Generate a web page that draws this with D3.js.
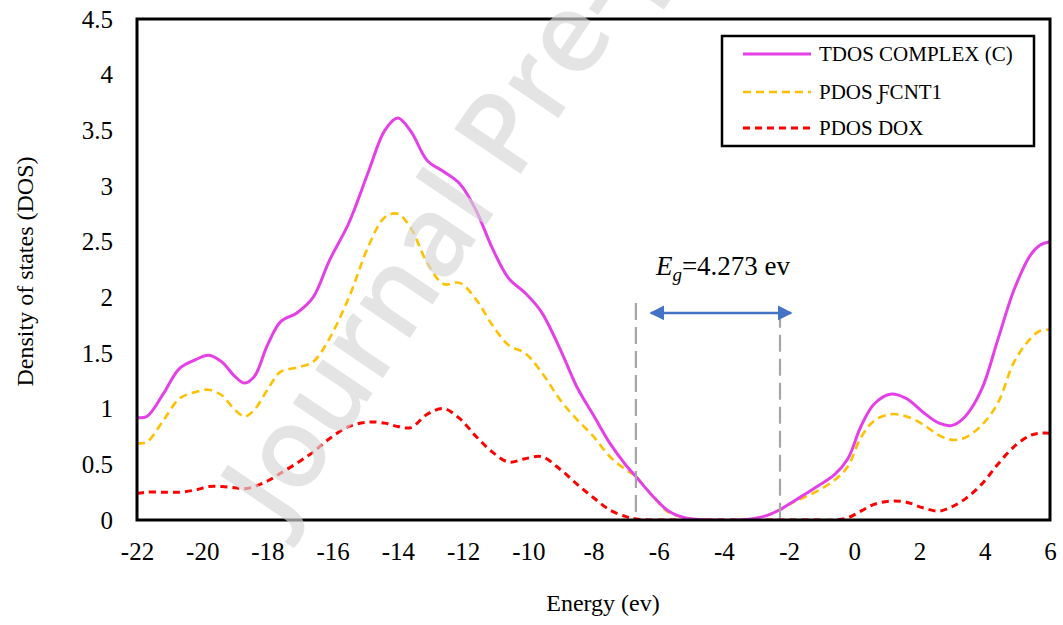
<!DOCTYPE html>
<html>
<head>
<meta charset="utf-8">
<script src="https://cdn.jsdelivr.net/npm/d3@7"></script>
<style>
  body { margin: 0; background: #fff; }
  svg { display: block; }
  text { font-family: "Liberation Serif", "Times New Roman", serif; fill: #000; }
</style>
</head>
<body>
<div id="chart"></div>
<script>
// energy grid (eV) shared by all three series
var energy = [-22, -21.7, -21.2, -20.7, -20.2, -19.8, -19.4, -19.0, -18.7, -18.4, -18.0, -17.6, -17.1, -16.6, -16.1, -15.5, -14.9, -14.4, -14.0, -13.6, -13.1, -12.6, -12.1, -11.6, -11.1, -10.6, -10.1, -9.6, -9.0, -8.5, -8.0, -7.5, -7.0, -6.7, -6.2, -5.7, -5.2, -4.5, -3.5, -2.8, -2.3, -1.8, -1.2, -0.6, -0.2, 0.2, 0.6, 1.1, 1.6, 2.1, 2.6, 3.0, 3.4, 3.9, 4.4, 4.9, 5.4, 5.7, 6.0]

var tdos = [0.92, 0.93, 1.13, 1.36, 1.44, 1.48, 1.42, 1.29, 1.23, 1.29, 1.57, 1.78, 1.86, 2.00, 2.33, 2.67, 3.13, 3.50, 3.61, 3.49, 3.23, 3.13, 3.02, 2.78, 2.44, 2.17, 2.04, 1.87, 1.52, 1.19, 0.94, 0.69, 0.49, 0.39, 0.22, 0.08, 0.02, 0.0, 0.0, 0.03, 0.09, 0.18, 0.29, 0.41, 0.55, 0.84, 1.04, 1.13, 1.09, 0.97, 0.87, 0.85, 0.93, 1.17, 1.62, 2.07, 2.38, 2.47, 2.50]

var pdosFcnt = [0.69, 0.70, 0.89, 1.09, 1.15, 1.17, 1.12, 0.99, 0.93, 0.99, 1.17, 1.33, 1.37, 1.42, 1.63, 2.00, 2.46, 2.72, 2.75, 2.62, 2.31, 2.12, 2.13, 1.98, 1.75, 1.57, 1.50, 1.33, 1.07, 0.90, 0.75, 0.57, 0.45, 0.39, 0.22, 0.07, 0.02, 0.0, 0.0, 0.03, 0.09, 0.17, 0.25, 0.36, 0.48, 0.74, 0.89, 0.95, 0.93, 0.86, 0.76, 0.72, 0.74, 0.85, 1.05, 1.42, 1.63, 1.70, 1.71]

var pdosDox = [0.24, 0.25, 0.25, 0.25, 0.27, 0.30, 0.30, 0.29, 0.28, 0.30, 0.35, 0.42, 0.51, 0.61, 0.73, 0.84, 0.88, 0.87, 0.84, 0.83, 0.95, 1.00, 0.91, 0.75, 0.61, 0.52, 0.55, 0.57, 0.45, 0.32, 0.20, 0.09, 0.03, 0.01, 0.0, 0.0, 0.0, 0.0, 0.0, 0.0, 0.0, 0.0, 0.0, 0.0, 0.02, 0.08, 0.14, 0.17, 0.16, 0.11, 0.08, 0.12, 0.19, 0.32, 0.50, 0.66, 0.76, 0.78, 0.78]

var seriesNames = ["TDOS COMPLEX (C)", "PDOS ƑCNT1", "PDOS DOX"]
var xTicks = [-22, -20, -18, -16, -14, -12, -10, -8, -6, -4, -2, 0, 2, 4, 6]
var yTicks = [0, 0.5, 1, 1.5, 2, 2.5, 3, 3.5, 4, 4.5]

// band gap markers
var gapEdges = [-6.7, -2.28]
var gapTops = [1.95, 1.88]
var gapArrow = [-6.24, -1.94]
var gapArrowY = 1.86
var gapValue = "=4.273 ev"

var W = 1063, H = 625
var plot = {left: 137, right: 1050, top: 19, bottom: 520}

var svg = d3.select("#chart").append("svg")
    .attr("width", W)
    .attr("height", H)

var x = d3.scaleLinear().domain([-22, 6]).range([plot.left, plot.right])
var y = d3.scaleLinear().domain([0, 4.5]).range([plot.bottom, plot.top])

var defs = svg.append("defs")
defs.append("clipPath")
    .attr("id", "clip")
    .append("rect")
    .attr("x", plot.left).attr("y", plot.top - 2)
    .attr("width", plot.right - plot.left).attr("height", plot.bottom - plot.top + 2)

defs.append("marker")
    .attr("id", "head")
    .attr("viewBox", "0 0 10 10")
    .attr("refX", 9).attr("refY", 5)
    .attr("markerWidth", 6).attr("markerHeight", 6)
    .attr("markerUnits", "strokeWidth")
    .attr("orient", "auto-start-reverse")
    .append("path")
    .attr("d", "M0,0 L10,5 L0,10 Z")
    .attr("fill", "#4472C4")

// axes (labels only, no tick marks)
var xAxis = svg.append("g")
    .attr("transform", "translate(0," + plot.bottom + ")")
    .call(d3.axisBottom(x).tickValues(xTicks).tickSize(0).tickPadding(22).tickFormat(function(d){ return String(d) }))
xAxis.select(".domain").remove()
xAxis.selectAll("text")
    .attr("font-size", "25px")

var yAxis = svg.append("g")
    .attr("transform", "translate(" + plot.left + ",0)")
    .call(d3.axisLeft(y).tickValues(yTicks).tickSize(0).tickPadding(24).tickFormat(function(d){ return String(d) }))
yAxis.select(".domain").remove()
yAxis.selectAll("text")
    .attr("font-size", "25px")

svg.append("text")
    .attr("transform", "translate(33," + ((plot.top + plot.bottom) / 2 + 2) + ") rotate(-90)")
    .attr("text-anchor", "middle")
    .attr("font-size", "24px")
    .text("Density of states (DOS)")

svg.append("text")
    .attr("x", 603)
    .attr("y", 611)
    .attr("text-anchor", "middle")
    .attr("font-size", "24px")
    .text("Energy (ev)")

// curves
var line = d3.line()
    .x(function(d, i){ return x(energy[i]) })
    .y(function(d){ return y(d) })
    .curve(d3.curveCatmullRom.alpha(0.5))

var styles = [
    {color: "#E540E8", width: 3, dash: null},
    {color: "#FFC000", width: 2.6, dash: "8,5"},
    {color: "#FF0000", width: 3, dash: "7,5"}
]
var allSeries = [tdos, pdosFcnt, pdosDox]

var curves = svg.append("g").attr("clip-path", "url(#clip)")
curves.selectAll("path")
    .data([2, 1, 0])
    .enter().append("path")
    .attr("d", function(k){ return line(allSeries[k]) })
    .attr("fill", "none")
    .attr("stroke", function(k){ return styles[k].color })
    .attr("stroke-width", function(k){ return styles[k].width })
    .attr("stroke-dasharray", function(k){ return styles[k].dash })
    .attr("stroke-linejoin", "round")

// band gap lines + arrow
svg.selectAll(".gap")
    .data(gapEdges)
    .enter().append("line")
    .attr("class", "gap")
    .attr("x1", function(d){ return x(d) }).attr("x2", function(d){ return x(d) })
    .attr("y1", function(d, i){ return y(gapTops[i]) })
    .attr("y2", y(0))
    .attr("stroke", "#A6A6A6")
    .attr("stroke-width", 2.2)
    .attr("stroke-dasharray", "17,7")

svg.append("line")
    .attr("x1", x(gapArrow[0])).attr("x2", x(gapArrow[1]))
    .attr("y1", y(gapArrowY)).attr("y2", y(gapArrowY))
    .attr("stroke", "#4472C4")
    .attr("stroke-width", 2.5)
    .attr("marker-start", "url(#head)")
    .attr("marker-end", "url(#head)")

var eg = svg.append("text")
    .attr("x", x(gapArrow[0]) + 5)
    .attr("y", y(2.2))
    .attr("font-size", "27px")
eg.append("tspan").attr("font-style", "italic").text("E")
eg.append("tspan").attr("font-style", "italic").attr("font-size", "19px").attr("dy", 6).text("g")
eg.append("tspan").attr("dy", -6).text(gapValue)

// frame
svg.append("rect")
    .attr("x", plot.left).attr("y", plot.top)
    .attr("width", plot.right - plot.left).attr("height", plot.bottom - plot.top)
    .attr("fill", "none")
    .attr("stroke", "#000")
    .attr("stroke-width", 3)

// legend
var legend = svg.append("g").attr("transform", "translate(722,36)")
legend.append("rect")
    .attr("width", 312).attr("height", 110)
    .attr("fill", "#fff")
    .attr("stroke", "#000")
    .attr("stroke-width", 2.5)

var items = legend.selectAll(".item")
    .data(seriesNames)
    .enter().append("g")
    .attr("class", "item")
    .attr("transform", function(d, i){ return "translate(0," + [18, 56, 92][i] + ")" })
items.append("line")
    .attr("x1", 21).attr("x2", 89)
    .attr("stroke", function(d, i){ return styles[i].color })
    .attr("stroke-width", function(d, i){ return styles[i].width })
    .attr("stroke-dasharray", function(d, i){ return styles[i].dash })
items.append("text")
    .attr("x", 97)
    .attr("dy", "0.35em")
    .attr("font-size", "21px")
    .text(function(d){ return d })

// watermark
svg.append("text")
    .attr("transform", "translate(281,529) rotate(-56)")
    .style("font-family", "'Open Sans', sans-serif")
    .style("font-weight", 600)
    .style("fill", "#d6d6d6")
    .style("fill-opacity", 0.65)
    .attr("font-size", "112px")
    .text("Journal Pre-proof")
</script>
</body>
</html>
